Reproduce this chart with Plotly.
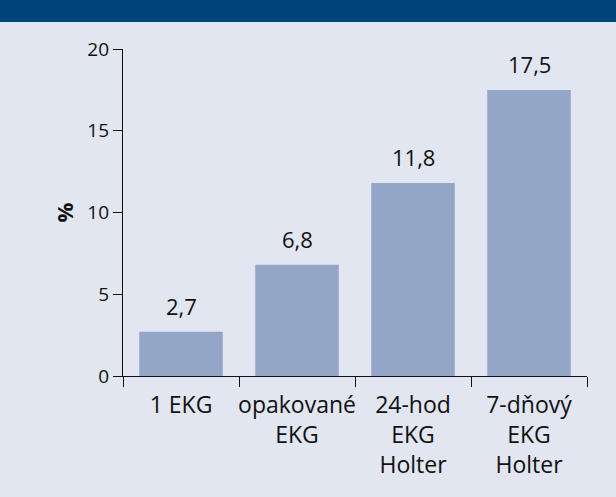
import plotly.graph_objects as go

categories = ["1 EKG", "opakované<br>EKG", "24-hod<br>EKG<br>Holter", "7-dňový<br>EKG<br>Holter"]
values = [2.7, 6.8, 11.8, 17.5]
value_labels = ["2,7", "6,8", "11,8", "17,5"]
y_ticks = [0, 5, 10, 15, 20]

FONT = "Open Sans"
BG = "#E1E6F0"
BAR = "#93A6C8"
HEADER = "#00447C"
INK = "#111111"

fig = go.Figure(go.Bar(
    x=categories, y=values,
    marker=dict(color=BAR, line=dict(width=0)),
    hoverinfo="skip",
))

for c, v, t in zip(categories, values, value_labels):
    fig.add_annotation(
        x=c, y=v, xref="x", yref="y", text=t, showarrow=False,
        yanchor="bottom", yshift=9,
        font=dict(family=FONT, size=22, color=INK),
    )

fig.update_layout(
    width=616, height=497,
    margin=dict(l=123, r=29, t=49, b=121, pad=0, autoexpand=False),
    paper_bgcolor=BG, plot_bgcolor=BG,
    bargap=0.28,
    showlegend=False,
    font=dict(family=FONT, color=INK),
    shapes=[dict(
        type="rect", xref="paper", yref="paper",
        x0=-1, x1=2, ysizemode="pixel", yanchor=1, y0=27, y1=80,
        fillcolor=HEADER, line=dict(width=0), layer="above",
    )],
)

fig.update_xaxes(
    showline=True, linecolor=INK, linewidth=1.3,
    ticks="outside", tickson="boundaries", ticklen=10, tickwidth=1.3, tickcolor=INK,
    tickfont=dict(family=FONT, size=23, color=INK),
    tickangle=0, automargin=False,
    ticklabelstandoff=8,
    showgrid=False, zeroline=False,
)
fig.update_yaxes(
    range=[0, 20], tickvals=y_ticks,
    showline=True, linecolor=INK, linewidth=1.3,
    ticks="outside", ticklen=9, tickwidth=1.3, tickcolor=INK,
    tickfont=dict(family=FONT, size=19, color=INK),
    automargin=False,
    showgrid=False, zeroline=False,
    title=dict(text="<b>%</b>", font=dict(family=FONT, size=22, color=INK), standoff=7),
)

fig.write_html(
    "out.html",
    config={"displayModeBar": False},
    post_script="document.body.style.margin='0';document.body.style.padding='0';",
)
